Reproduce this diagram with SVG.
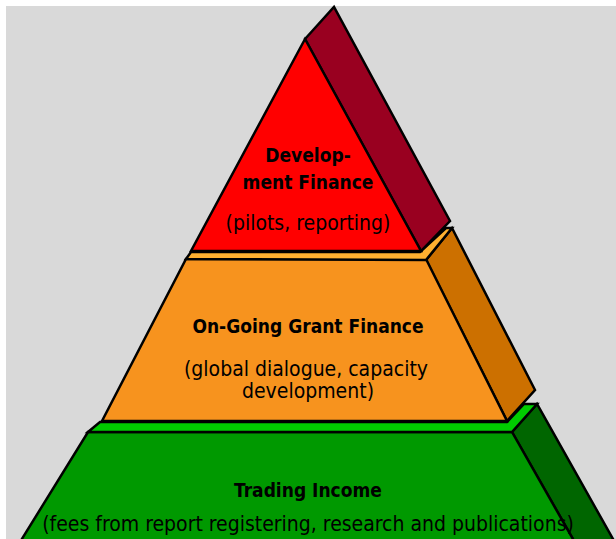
<svg xmlns="http://www.w3.org/2000/svg" width="616" height="539" viewBox="0 0 616 539">
<style>
.s{stroke:#000;stroke-width:2.5;stroke-linejoin:miter}
.t{font-family:"DejaVu Sans Condensed","DejaVu Sans",sans-serif;font-size:21px;fill:#000;text-anchor:middle}
.b{font-weight:bold;font-size:19px}
</style>
<rect x="0" y="0" width="616" height="539" fill="#ffffff"/>
<rect x="6" y="6" width="610" height="533" fill="#d9d9d9"/>
<g id="tier-trading">
<polygon class="s" fill="#006600" points="512,432 537,404 622,555 582,555"/>
<polygon class="s" fill="#009900" points="88,432 512,432 582,555 12,555"/>
<polygon class="s" fill="#00cc00" points="88,432 100,422 507,422 524,404 537,404 512,432"/>
<text class="t b" x="308" y="497">Trading Income</text>
<text class="t" x="308" y="531">(fees from report registering, research and publications)</text>
</g>
<g id="tier-grant">
<polygon class="s" fill="#cc7000" points="426,260 452,228 535,390 507,421"/>
<polygon class="s" fill="#f7931e" points="186,259 426,259 507,421 102,421"/>
<polygon class="s" fill="#ffb030" points="186,259 191,252 420,252 446,228 452,228 426,260"/>
<text class="t b" x="308" y="333">On-Going Grant Finance</text>
<text class="t" x="306" y="376">(global dialogue, capacity</text>
<text class="t" x="308" y="398">development)</text>
</g>
<g id="tier-development">
<polygon class="s" fill="#990020" points="305,39 334,7 450,221 421,251"/>
<polygon class="s" fill="#ff0000" points="305,39 421,251 191,251"/>
<text class="t b" x="308" y="162">Develop-</text>
<text class="t b" x="308" y="189">ment Finance</text>
<text class="t" x="308" y="230">(pilots, reporting)</text>
</g>
<g id="connectors"></g>
</svg>
